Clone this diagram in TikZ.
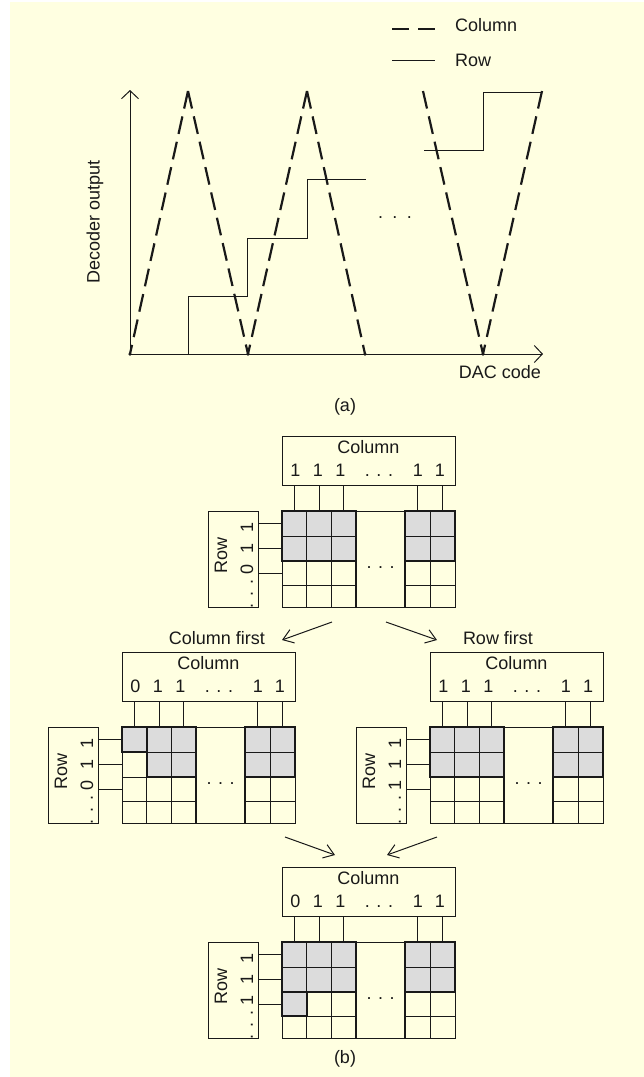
\documentclass[tikz,border=0pt]{standalone}
\usepackage{fontspec}
\setmainfont{Liberation Sans}
\usetikzlibrary{arrows.meta}
\definecolor{bgyellow}{RGB}{255,255,225}
\definecolor{inkc}{RGB}{25,25,25}
\definecolor{cellgray}{RGB}{220,220,220}
\tikzset{
 txt/.style={font=\fontsize{18}{21}\selectfont, inner sep=0pt, text=inkc},
 thinln/.style={draw=inkc, line width=0.9pt},
 gridln/.style={draw=inkc, line width=1pt},
 outerln/.style={draw=inkc, line width=1.3pt},
 shadeblk/.style={fill=cellgray, draw=inkc, line width=1.8pt},
 boxst/.style={draw=inkc, line width=1.2pt, inner sep=0pt},
 coldash/.style={draw=inkc, line width=2.2pt, dash pattern=on 18pt off 8pt},
 rowline/.style={draw=inkc, line width=1pt},
 axisarrow/.style={draw=inkc, line width=1pt, -{Straight Barb[length=8pt,width=17pt,line width=1pt]}},
 flowarrow/.style={draw=inkc, line width=1pt, -{Straight Barb[length=10pt,width=14pt,line width=1pt]}},
 axdot/.style={circle, fill=inkc, inner sep=0pt, minimum size=3.5pt},
}
\newcommand{\shadeit}[4]{\draw[shadeblk] (#1,#2) rectangle (#3,#4);}
\newcommand{\cellgrid}[5]{%
\begin{scope}[shift={#1}]
 \node[boxst, anchor=north west, minimum width=173pt, minimum height=49pt] (#2col) at (0,-75) {};
 \node[txt, anchor=base] (#2colt) at (86.5,-58) {Column};
 \node[txt, anchor=base] (#2ca) at (13.5,-35) {#3};
 \node[txt, anchor=base] (#2cb) at (36,-35) {1};
 \node[txt, anchor=base] (#2cc) at (58.5,-35) {1};
 \node[txt, anchor=base] (#2cd) at (97,-35) {. . .};
 \node[txt, anchor=base] (#2ce) at (136,-35) {1};
 \node[txt, anchor=base] (#2cf) at (158,-35) {1};
 \node[boxst, anchor=north west, minimum width=50pt, minimum height=96pt] (#2row) at (-74,0) {};
 \node[txt, rotate=90] (#2rowt) at (-61,44) {Row};
 \node[txt, rotate=90] (#2ra) at (-35,16) {1};
 \node[txt, rotate=90] (#2rb) at (-35,37) {1};
 \node[txt, rotate=90] (#2rc) at (-35,58) {#4};
 \node[txt, rotate=90] (#2rd) at (-30,83) {. . .};
 #5
 \node[outerln, anchor=north west, minimum width=173pt, minimum height=96pt, inner sep=0pt] (#2grid) at (0,0) {};
 \foreach \gx in {24.7,49.3,148} {\draw[gridln] (\gx,0) -- (\gx,96);}
 \foreach \gx in {74,123} {\draw[outerln] (\gx,0) -- (\gx,96);}
 \foreach \gy in {25,50,74} {\draw[gridln] (0,\gy) -- (74,\gy); \draw[gridln] (123,\gy) -- (173,\gy);}
 \foreach \cx in {12.3,37,61.7,135.5,160.5} {\draw[thinln] (\cx,0 |- #2col.south) -- (\cx,0 |- #2grid.north);}
 \foreach \ry in {12,37,62} {\draw[thinln] (#2row.east |- 0,\ry) -- (#2grid.west |- 0,\ry);}
 \node[txt, anchor=base] (#2dots) at (98.5,57.5) {.\hspace{6.5pt}.\hspace{6.5pt}.};
\end{scope}}
\begin{document}
\begin{tikzpicture}[x=1pt,y=-1pt]
\useasboundingbox (0,0) rectangle (644,1077);
\fill[bgyellow] (10,2) rectangle (644,1077);
% ---------- legend
\coordinate (ld1) at (392,29); \coordinate (ld2) at (435,29);
\draw[coldash, dash pattern=on 17pt off 9pt] (ld1) -- (ld2);
\node[txt, anchor=base west] (legcol) at (455,31) {Column};
\coordinate (lr1) at (392,60); \coordinate (lr2) at (435,60);
\draw[rowline] (lr1) -- (lr2);
\node[txt, anchor=base west] (legrow) at (455,66) {Row};
% ---------- axes
\coordinate (O) at (130,354);
\coordinate (ytip) at (130,90);
\coordinate (xtip) at (543,354);
\draw[axisarrow] (O) -- (ytip);
\draw[axisarrow] (O) -- (xtip);
\node[txt, rotate=90] (ylab) at (95,222) {Decoder output};
\node[txt] (xlab) at (500,372) {DAC code};
\node[axdot] (d0) at (130,354) {};
\node[axdot] (d1) at (248,354) {};
\node[axdot] (d2) at (365,354) {};
\node[axdot] (d3) at (483,354) {};
% ---------- column (dashed triangles)
\coordinate (p1) at (188,91);
\coordinate (p2) at (307,91);
\coordinate (p3) at (423,91);
\coordinate (p4) at (542,91);
\draw[coldash] (p1) -- (d0.center);
\draw[coldash] (p1) -- (d1.center);
\draw[coldash] (p2) -- (d1.center);
\draw[coldash] (p2) -- (d2.center);
\draw[coldash] (p3) -- (d3.center);
\draw[coldash] (p4) -- (d3.center);
% ---------- row (staircase)
\draw[rowline] (130,354) -- (188,354) -- (188,296) -- (247,296) -- (247,238) -- (307,238) -- (307,179) -- (366,179);
\draw[rowline] (424,150) -- (483,150) -- (483,92) -- (542,92);
\node[txt, anchor=base] (cdots) at (395,218.5) {.\hspace{9.5pt}.\hspace{9.5pt}.};
\node[txt] (capa) at (345,407) {(a)};
% ---------- grids
\cellgrid{(282,511)}{T}{1}{0}{\shadeit{0}{0}{74}{50}\shadeit{123}{0}{173}{50}}
\cellgrid{(122,727)}{L}{0}{0}{\shadeit{0}{0}{24.7}{25}\shadeit{24.7}{0}{74}{50}\shadeit{123}{0}{173}{50}}
\cellgrid{(430,727)}{R}{1}{1}{\shadeit{0}{0}{74}{50}\shadeit{123}{0}{173}{50}}
\cellgrid{(282,942)}{B}{0}{1}{\shadeit{0}{0}{74}{50}\shadeit{0}{50}{24.7}{74}\shadeit{123}{0}{173}{50}}
% ---------- flow labels and arrows
\node[txt] (cfirst) at (217,638) {Column first};
\node[txt] (rfirst) at (498,638) {Row first};
\coordinate (a1s) at (332,622); \coordinate (a1e) at (282,640);
\coordinate (a2s) at (386,622); \coordinate (a2e) at (437,640);
\coordinate (a3s) at (285,837); \coordinate (a3e) at (335,855);
\coordinate (a4s) at (437,837); \coordinate (a4e) at (387,855);
\draw[flowarrow] (a1s) -- (a1e);
\draw[flowarrow] (a2s) -- (a2e);
\draw[flowarrow] (a3s) -- (a3e);
\draw[flowarrow] (a4s) -- (a4e);
\node[txt] (capb) at (345,1059) {(b)};
\end{tikzpicture}
\end{document}
